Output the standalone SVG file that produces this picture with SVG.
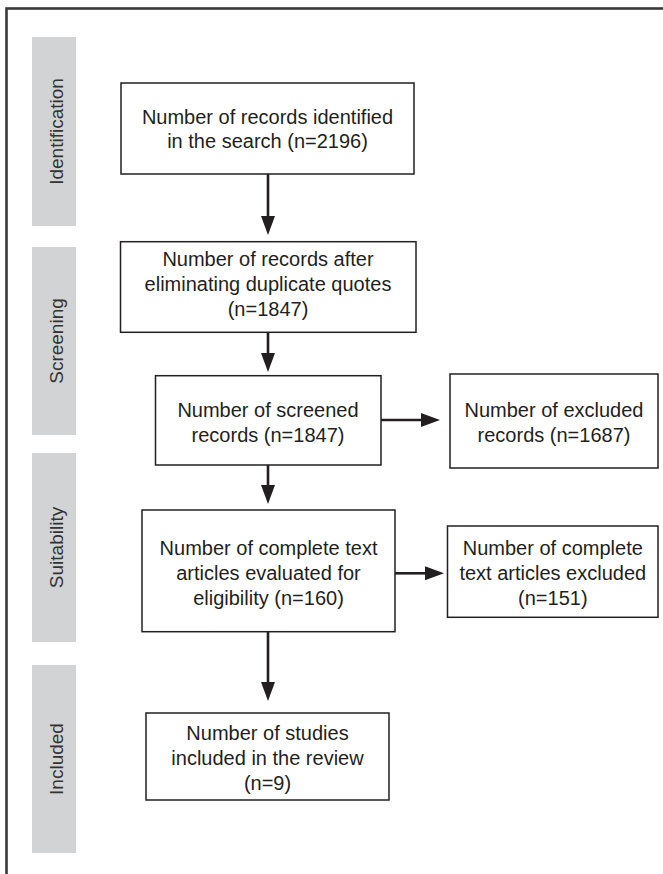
<svg xmlns="http://www.w3.org/2000/svg" width="663" height="874" viewBox="0 0 663 874">
<style>
.frame{fill:none;stroke:#3a3a3a;stroke-width:2.6}
.bar{fill:#d1d3d4}
.lbl{font-family:"Liberation Sans",Arial,sans-serif;font-size:19px;fill:#333333;text-anchor:middle}
.box{fill:#ffffff;stroke:#231f20;stroke-width:1.5}
.txt{font-family:"Liberation Sans",Arial,sans-serif;font-size:20px;fill:#231f20;text-anchor:middle}
.conn{stroke:#231f20;stroke-width:2.6;fill:none;marker-end:url(#ah)}
</style>
<defs>
<marker id="ah" markerUnits="userSpaceOnUse" markerWidth="20" markerHeight="16" viewBox="0 -8 20 16" refX="1" refY="0" orient="auto">
<path d="M0,-7 L19,0 L0,7 z" fill="#231f20"/>
</marker>
</defs>
<rect class="frame" x="6.5" y="8.5" width="680" height="900"/>
<g id="stages">
<g id="stage-identification"><rect class="bar" x="32" y="37" width="44" height="189"/><text class="lbl" transform="translate(63,131.5) rotate(-90)">Identification</text></g>
<g id="stage-screening"><rect class="bar" x="32" y="247" width="44" height="188"/><text class="lbl" transform="translate(63,341) rotate(-90)">Screening</text></g>
<g id="stage-suitability"><rect class="bar" x="32" y="453" width="44" height="189"/><text class="lbl" transform="translate(63,547.5) rotate(-90)">Suitability</text></g>
<g id="stage-included"><rect class="bar" x="32" y="665" width="44" height="188"/><text class="lbl" transform="translate(63,759) rotate(-90)">Included</text></g>
</g>
<g id="n1"><rect class="box" x="121" y="83" width="293" height="91"/>
<text class="txt" x="267.5" y="124">Number of records identified</text>
<text class="txt" x="267.5" y="148">in the search (n=2196)</text></g>
<g id="n2"><rect class="box" x="120.5" y="241.7" width="295.5" height="90.6"/>
<text class="txt" x="268" y="266">Number of records after</text>
<text class="txt" x="268" y="291">eliminating duplicate quotes</text>
<text class="txt" x="268" y="316">(n=1847)</text></g>
<g id="n3"><rect class="box" x="155.5" y="375.7" width="225.5" height="89.3"/>
<text class="txt" x="268" y="417">Number of screened</text>
<text class="txt" x="268" y="442">records (n=1847)</text></g>
<g id="n4"><rect class="box" x="450" y="374" width="208" height="94"/>
<text class="txt" x="554" y="417">Number of excluded</text>
<text class="txt" x="554" y="442">records (n=1687)</text></g>
<g id="n5"><rect class="box" x="142" y="510" width="253" height="121.7"/>
<text class="txt" x="268.5" y="555">Number of complete text</text>
<text class="txt" x="268.5" y="580">articles evaluated for</text>
<text class="txt" x="268.5" y="605">eligibility (n=160)</text></g>
<g id="n6"><rect class="box" x="447.5" y="526" width="210.5" height="91.3"/>
<text class="txt" x="552.8" y="555">Number of complete</text>
<text class="txt" x="552.8" y="580">text articles excluded</text>
<text class="txt" x="552.8" y="605">(n=151)</text></g>
<g id="n7"><rect class="box" x="146" y="713" width="243" height="87"/>
<text class="txt" x="267.5" y="740">Number of studies</text>
<text class="txt" x="267.5" y="765">included in the review</text>
<text class="txt" x="267.5" y="790">(n=9)</text></g>
<g id="connectors">
<line class="conn" x1="268" y1="174" x2="268" y2="217"/>
<line class="conn" x1="268" y1="332.3" x2="268" y2="354"/>
<line class="conn" x1="381" y1="420" x2="422" y2="420"/>
<line class="conn" x1="268" y1="465" x2="268" y2="486"/>
<line class="conn" x1="395" y1="573.3" x2="426" y2="573.3"/>
<line class="conn" x1="268" y1="631.7" x2="268" y2="683"/>
</g>
</svg>
